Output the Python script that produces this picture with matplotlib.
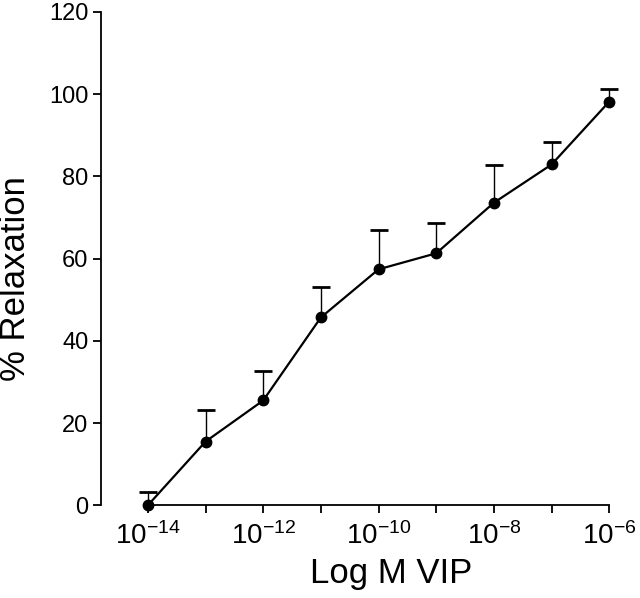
import matplotlib
matplotlib.use("Agg")
import matplotlib.pyplot as plt

# concentration (M VIP) and response
conc = [1e-14, 1e-13, 1e-12, 1e-11, 1e-10, 1e-9, 1e-8, 1e-7, 1e-6]
relax = [0.0, 15.5, 25.5, 45.7, 57.4, 61.3, 73.6, 82.9, 98.2]
sem = [3.2, 7.6, 7.2, 7.4, 9.6, 7.4, 9.1, 5.5, 3.0]

tick_pos = [1e-14, 1e-13, 1e-12, 1e-11, 1e-10, 1e-9, 1e-8, 1e-7, 1e-6]
tick_lab = ["$10^{-14}$", "", "$10^{-12}$", "", "$10^{-10}$", "", "$10^{-8}$", "", "$10^{-6}$"]

plt.rcParams["font.family"] = "Liberation Sans"
plt.rcParams["mathtext.fontset"] = "custom"
plt.rcParams["mathtext.rm"] = "Liberation Sans"
plt.rcParams["mathtext.it"] = "Liberation Sans"

fig = plt.figure(figsize=(6.4, 5.98), dpi=100)
ax = fig.add_axes([0.158, 0.155, 0.803, 0.825])

# upper error bars only
upper = [r + s for r, s in zip(relax, sem)]
ax.vlines(conc, relax, upper, color="black", linewidth=1.0, clip_on=False)
ax.plot(conc, upper, linestyle="none", marker="_", markersize=13,
        markeredgewidth=2.0, color="black", clip_on=False)

ax.plot(conc, relax, color="black", linewidth=1.6, marker="o",
        markersize=7.5, clip_on=False, zorder=3)

ax.set_xscale("log")
ax.set_xlim(10 ** -14.81, 10 ** -5.9)
ax.set_ylim(0, 120)

ax.set_xticks(tick_pos)
ax.set_xticklabels(tick_lab)
ax.xaxis.set_minor_locator(matplotlib.ticker.NullLocator())
ax.set_yticks([0, 20, 40, 60, 80, 100, 120])

for side in ["top", "right"]:
    ax.spines[side].set_visible(False)
ax.spines["bottom"].set_bounds(1e-14, 1e-6)
ax.spines["left"].set_bounds(0, 120)
ax.spines["left"].set_linewidth(1.3)
ax.spines["bottom"].set_linewidth(1.3)

ax.tick_params(axis="both", length=6, width=1.3, direction="out")
ax.tick_params(axis="x", labelsize=20, pad=6)
ax.tick_params(axis="y", labelsize=17, pad=3)

ax.set_xlabel("Log M VIP", fontsize=25)
ax.set_ylabel("% Relaxation", fontsize=25)
ax.xaxis.set_label_coords(0.564, -0.105)
ax.yaxis.set_label_coords(-0.134, 0.46)

fig.savefig("out.png", dpi=100)
